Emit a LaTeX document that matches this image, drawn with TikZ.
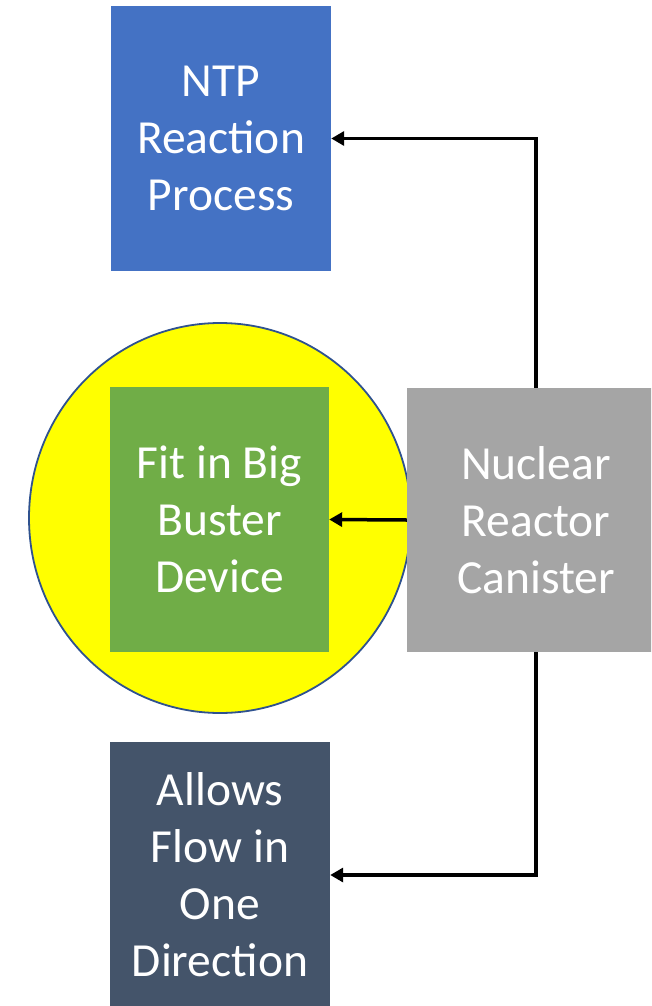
\documentclass[tikz,border=0pt]{standalone}
\usepackage{fontspec}
\setmainfont{Carlito}
\usetikzlibrary{arrows.meta,shapes.geometric}
\definecolor{nblue}{HTML}{4472C4}
\definecolor{ngreen}{HTML}{70AD47}
\definecolor{ngray}{HTML}{A5A5A5}
\definecolor{ndark}{HTML}{44546A}
\definecolor{nring}{HTML}{2F528F}
\definecolor{nyellow}{RGB}{255,255,0}
\tikzset{
  boxnode/.style={rectangle, inner sep=0pt, text=white, align=center,
    font=\fontsize{47.5}{57}\selectfont},
  conn/.style={line width=3.5pt, -{Triangle[length=13pt,width=14pt]}},
}
\begin{document}
\begin{tikzpicture}[x=1pt,y=-1pt]
\useasboundingbox (0,0) rectangle (651,1006);
\clip (0,0) rectangle (651,1006);
\node[ellipse, draw=nring, line width=1.8pt, fill=nyellow, inner sep=0pt,
  minimum width=382pt, minimum height=390pt] (ring) at (220,518) {};
\node[boxnode, fill=nblue, minimum width=220pt, minimum height=265pt] (ntp) at (221,138.5) {NTP\\Reaction\\Process};
\node[boxnode, fill=ngreen, minimum width=219pt, minimum height=265pt] (fit) at (219.5,519.5) {Fit in Big\\Buster\\Device};
\node[boxnode, fill=ngray, minimum width=258pt, minimum height=264pt] (reactor) at (536,520) {Nuclear\\Reactor\\Canister};
\node[boxnode, fill=ndark, minimum width=220pt, minimum height=266pt] (flow) at (220,875) {Allows\\Flow in\\One\\Direction};
\draw[conn] (reactor.north) |- (ntp.east);
\draw[conn] (reactor.west) -- (fit.east);
\draw[conn] (reactor.south) |- (flow.east);
\end{tikzpicture}
\end{document}
